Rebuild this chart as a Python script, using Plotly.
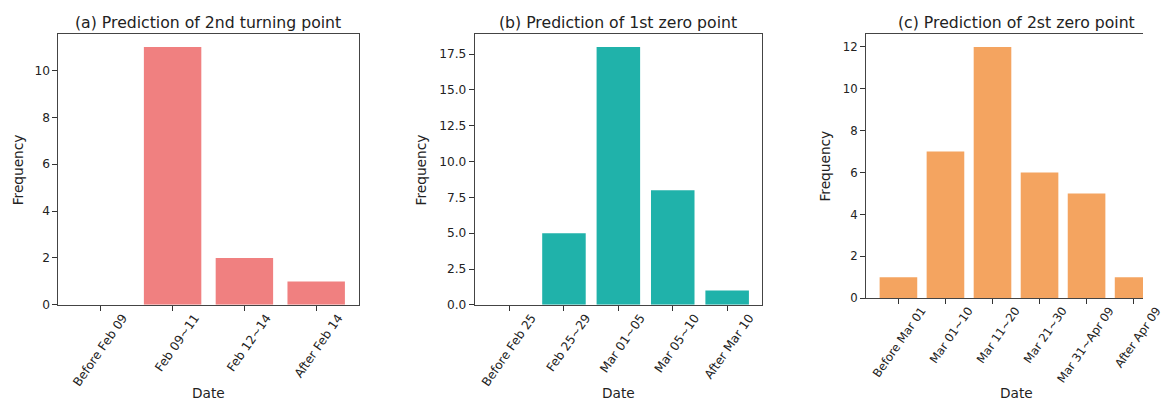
import plotly.graph_objects as go

# ---- data ----
cats_a = ["Before Feb 09", "Feb 09~11", "Feb 12~14", "After Feb 14"]
vals_a = [0, 11, 2, 1]

cats_b = ["Before Feb 25", "Feb 25~29", "Mar 01~05", "Mar 05~10", "After Mar 10"]
vals_b = [0, 5, 18, 8, 1]

cats_c = ["Before Mar 01", "Mar 01~10", "Mar 11~20", "Mar 21~30", "Mar 31~Apr 09", "After Apr 09"]
vals_c = [1, 7, 12, 6, 5, 1]

titles = ["(a) Prediction of 2nd turning point",
          "(b) Prediction of 1st zero point",
          "(c) Prediction of 2st zero point"]
colors = ["#F08080", "#20B2AA", "#F4A460"]

W, H = 1164, 405
SX, SY = 0.9914, 0.980   # capture scaling observed in the rendered picture
FONT = "DejaVu Sans"
TXT = "#222222"

fig = go.Figure()
fig.add_trace(go.Bar(x=cats_a, y=vals_a, marker_color=colors[0], marker_line_width=0,
                     xaxis="x", yaxis="y", showlegend=False))
fig.add_trace(go.Bar(x=cats_b, y=vals_b, marker_color=colors[1], marker_line_width=0,
                     xaxis="x2", yaxis="y2", showlegend=False))
fig.add_trace(go.Bar(x=cats_c, y=vals_c, marker_color=colors[2], marker_line_width=0,
                     xaxis="x3", yaxis="y3", showlegend=False))

def px_x(p):
    return p / (W * SX)

def px_y(p):
    return 1 - p / (H * SY)

common_x = dict(showline=True, linecolor="#444444", linewidth=1, ticks="outside",
                ticklen=5, tickcolor="#333333", tickwidth=1, showgrid=False, zeroline=False,
                tickangle=-55, ticklabelshift=22, ticklabelstandoff=-5,
                tickfont=dict(family=FONT, size=12.2, color=TXT), fixedrange=True)
common_y = dict(showline=True, linecolor="#444444", linewidth=1, ticks="outside",
                ticklen=5, tickcolor="#333333", tickwidth=1, showgrid=False, zeroline=False,
                tickfont=dict(family=FONT, size=12.2, color=TXT), fixedrange=True)

fig.update_layout(
    width=W, height=H,
    margin=dict(l=0, r=0, t=0, b=0),
    paper_bgcolor="white", plot_bgcolor="white",
    bargap=0.2,
    font=dict(family=FONT, color=TXT),
    xaxis=dict(common_x, domain=[px_x(59), px_x(362)], range=[-0.59, 3.59], mirror=True, anchor="y"),
    yaxis=dict(common_y, domain=[px_y(304), px_y(34)], range=[0, 11.55], dtick=2, mirror=True, anchor="x"),
    xaxis2=dict(common_x, domain=[px_x(479.3), px_x(769.3)], range=[-0.64, 4.64], mirror=True, anchor="y2"),
    yaxis2=dict(common_y, domain=[px_y(304), px_y(34)], range=[0, 18.9], dtick=2.5, tickformat=".1f",
                mirror=True, anchor="x2"),
    xaxis3=dict(common_x, domain=[px_x(874.3), 1.0], range=[-0.69, 5.2], mirror=True, anchor="y3",
                tickfont=dict(family=FONT, size=11.7, color=TXT), ticklabelshift=23),
    yaxis3=dict(common_y, domain=[px_y(297.3), px_y(34.3)], range=[0, 12.6], dtick=2, mirror=False,
                anchor="x3", tickfont=dict(family=FONT, size=11.7, color=TXT)),
)

# titles and x-axis titles
centers = [(1.5, "x"), (2.0, "x2"), (2.5, "x3")]
for (cx, xr), t in zip(centers, titles):
    fig.add_annotation(text=t, x=cx, xref=xr, y=px_y(22.5), yref="paper", showarrow=False,
                       xanchor="center", yanchor="middle", font=dict(family=FONT, size=15.7, color=TXT))
    fig.add_annotation(text="Date", x=cx, xref=xr, y=1 - 399.5 / H, yref="paper", showarrow=False,
                       xanchor="center", yanchor="middle", font=dict(family=FONT, size=13.7, color=TXT))

# y-axis titles
for xp, yc in [(19, 169), (426, 169), (833, 166)]:
    fig.add_annotation(text="Frequency", x=px_x(xp), xref="paper", y=px_y(yc), yref="paper",
                       showarrow=False, textangle=-90, xanchor="center", yanchor="middle",
                       font=dict(family=FONT, size=13.7, color=TXT))

fig.write_html("out.html", config={"displayModeBar": False},
               post_script="document.body.style.margin='0';")
